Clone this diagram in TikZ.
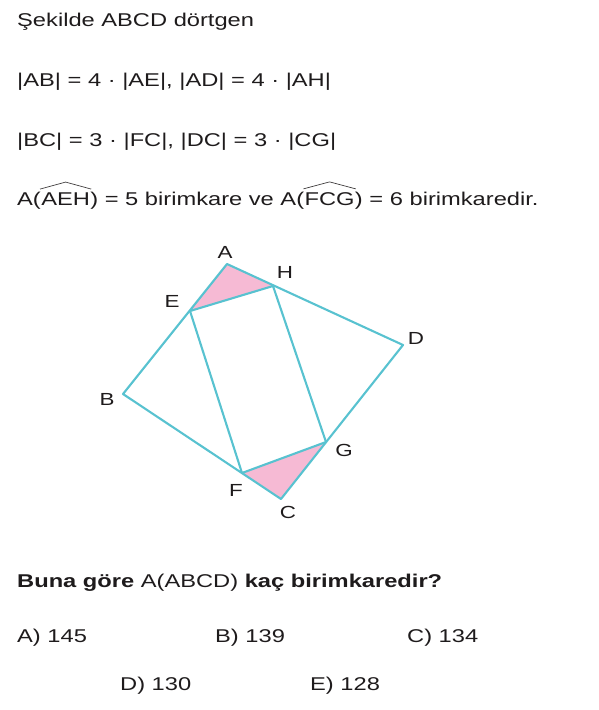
\documentclass[tikz,border=0pt]{standalone}
\usepackage{fontspec}
\setmainfont{Liberation Sans}[FakeStretch=1.28]
\usetikzlibrary{positioning}

\definecolor{edgecyan}{RGB}{88,194,208}
\definecolor{shadepink}{RGB}{246,186,212}
\definecolor{inkgray}{RGB}{30,27,28}

\begin{document}
\begin{tikzpicture}[
  x=1pt, y=-1pt,
  txt/.style={anchor=base west,inner sep=0pt,font=\fontsize{18.5}{22}\selectfont,text=inkgray},
  lbl/.style={inner sep=0pt,font=\fontsize{17.5}{20}\selectfont,text=inkgray},
  side/.style={edgecyan,line width=2.1pt,line join=round},
  roof/.style={inkgray!85,line width=0.7pt}
]
  \useasboundingbox (0,0) rectangle (599,710);

  % statement
  \node[txt] (t1) at (17,26) {Şekilde ABCD dörtgen};
  \node[txt] (t2) at (17,86) {|AB| = 4 · |AE|, |AD| = 4 · |AH|};
  \node[txt] (t3) at (17,146) {|BC| = 3 · |FC|, |DC| = 3 · |CG|};
  \node[txt] (t4a) at (17,205) {A(};
  \node[txt] (aeh) at (t4a.base east) {AEH};
  \node[txt] (t4b) at (aeh.base east) {) = 5 birimkare ve A(};
  \node[txt] (fcg) at (t4b.base east) {FCG};
  \node[txt] (t4c) at (fcg.base east) {) = 6 birimkaredir.};
  \draw[roof] ([xshift=-1pt,yshift=3pt]aeh.north west) -- ([yshift=10pt]aeh.north) -- ([xshift=1pt,yshift=3pt]aeh.north east);
  \draw[roof] ([xshift=-1pt,yshift=3pt]fcg.north west) -- ([yshift=10pt]fcg.north) -- ([xshift=1pt,yshift=3pt]fcg.north east);

  % figure
  \coordinate (A) at (227,264);
  \coordinate (H) at (273,286);
  \coordinate (E) at (190,311);
  \coordinate (D) at (403,345);
  \coordinate (B) at (123,394);
  \coordinate (G) at (326,442);
  \coordinate (F) at (242,473);
  \coordinate (C) at (281,499);

  \fill[shadepink] (A) -- (E) -- (H) -- cycle;
  \fill[shadepink] (F) -- (C) -- (G) -- cycle;
  \draw[side] (A) -- (B) -- (C) -- (D) -- cycle;
  \draw[side] (E) -- (F) -- (G) -- (H) -- cycle;

  \node[lbl] (la) at (225,252) {A};
  \node[lbl] (lh) at (285,272) {H};
  \node[lbl] (le) at (172,301) {E};
  \node[lbl] (ld) at (416,338) {D};
  \node[lbl] (lb) at (107,399) {B};
  \node[lbl] (lg) at (344,450) {G};
  \node[lbl] (lf) at (236,490) {F};
  \node[lbl] (lc) at (288,512) {C};

  % question and choices
  \node[txt] (q) at (17,587) {\textbf{Buna göre} A(ABCD) \textbf{kaç birimkaredir?}};
  \node[txt] (ca) at (17,642) {A) 145};
  \node[txt] (cb) at (215,642) {B) 139};
  \node[txt] (cc) at (407,642) {C) 134};
  \node[txt] (cd) at (120,690) {D) 130};
  \node[txt] (ce) at (310,690) {E) 128};
\end{tikzpicture}
\end{document}
